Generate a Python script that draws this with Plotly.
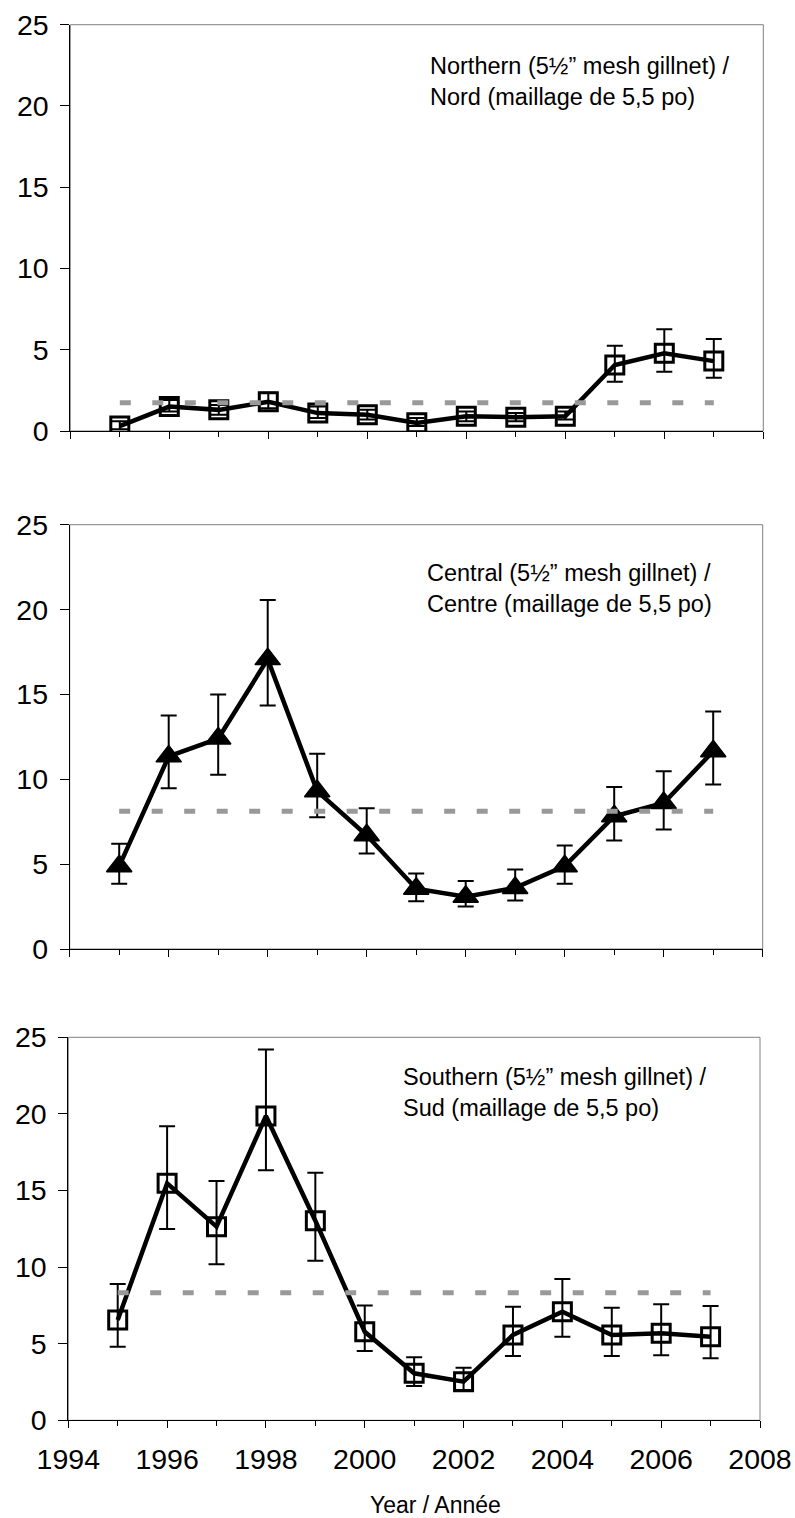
import plotly.graph_objects as go

W, H = 795, 1518

years = [1995, 1996, 1997, 1998, 1999, 2000, 2001, 2002, 2003, 2004, 2005, 2006, 2007]

# Northern (squares)
north = [0.3, 1.5, 1.3, 1.8, 1.1, 1.0, 0.5, 0.9, 0.85, 0.9, 4.06, 4.78, 4.3]
north_hi = [0.6, 1.9, 1.6, 2.35, 1.5, 1.3, 0.8, 1.2, 1.1, 1.2, 5.25, 6.26, 5.66]
north_lo = [0.1, 1.2, 1.0, 1.4, 0.8, 0.7, 0.3, 0.6, 0.6, 0.7, 3.03, 3.65, 3.28]
north_mean = 1.74

# Central (triangles)
central = [4.88, 11.35, 12.4, 17.08, 9.3, 6.7, 3.55, 3.08, 3.6, 4.88, 7.82, 8.6, 11.65]
central_hi = [6.2, 13.76, 15.0, 20.57, 11.5, 8.3, 4.45, 4.0, 4.69, 6.1, 9.55, 10.47, 14.0]
central_lo = [3.85, 9.47, 10.26, 14.35, 7.76, 5.63, 2.82, 2.5, 2.86, 3.85, 6.39, 7.04, 9.69]
central_mean = 8.12

# Southern (squares)
south = [6.55, 15.47, 12.64, 19.86, 13.03, 5.78, 3.07, 2.52, 5.57, 7.09, 5.57, 5.68, 5.46]
south_hi = [8.9, 19.2, 15.62, 24.2, 16.16, 7.5, 4.11, 3.43, 7.42, 9.22, 7.35, 7.57, 7.46]
south_lo = [4.8, 12.49, 10.18, 16.32, 10.42, 4.52, 2.24, 1.98, 4.2, 5.46, 4.2, 4.24, 4.05]
south_mean = 8.33

mean_x = [1995, 2007]

labels = [
    "Northern (5½” mesh gillnet) /<br>Nord (maillage de 5,5 po)",
    "Central (5½” mesh gillnet) /<br>Centre (maillage de 5,5 po)",
    "Southern (5½” mesh gillnet) /<br>Sud (maillage de 5,5 po)",
]
x_title = "Year / Année"
y_ticks = [0, 5, 10, 15, 20, 25]
x_ticks = [1994, 1996, 1998, 2000, 2002, 2004, 2006, 2008]

FONT = "Liberation Sans, Arial, sans-serif"

# pixel geometry of each plot area: (left, right, top, bottom)
boxes = [
    (70.3, 763.3, 24.7, 431.0),
    (69.7, 762.7, 524.7, 949.0),
    (68.3, 760.0, 1037.3, 1420.3),
]
label_pos = [(428.0, 51.0), (424.5, 558.0), (400.5, 1062.0)]

series = [
    (north, north_hi, north_lo, north_mean, "square-open"),
    (central, central_hi, central_lo, central_mean, "triangle-up"),
    (south, south_hi, south_lo, south_mean, "square-open"),
]

fig = go.Figure()
layout = dict(
    width=W, height=H,
    margin=dict(l=0, r=0, t=0, b=0),
    paper_bgcolor="white", plot_bgcolor="white",
    showlegend=False,
    font=dict(family=FONT, color="black"),
    annotations=[], shapes=[],
)

for i, ((vals, hi, lo, mean, sym), (l, r, t, b)) in enumerate(zip(series, boxes)):
    n = "" if i == 0 else str(i + 1)
    xa, ya = "x" + n, "y" + n
    plus = [h - v for h, v in zip(hi, vals)]
    minus = [v - lo_ for v, lo_ in zip(vals, lo)]
    if sym == "square-open":
        marker = dict(symbol=sym, size=18, color="black", line=dict(width=3, color="black"))
    else:
        marker = dict(symbol=sym, size=22, color="black", line=dict(width=1.5, color="black"))
    fig.add_trace(go.Scatter(
        x=years, y=vals, xaxis=xa, yaxis=ya, mode="lines+markers",
        line=dict(color="black", width=4.5),
        marker=marker,
        error_y=dict(type="data", symmetric=False, array=plus, arrayminus=minus,
                     color="black", thickness=2, width=8),
    ))
    fig.add_trace(go.Scatter(
        x=mean_x, y=[mean, mean], xaxis=xa, yaxis=ya, mode="lines",
        line=dict(color="#999999", width=5, dash="11px,21.5px"),
    ))
    xkey = "xaxis" + n
    ykey = "yaxis" + n
    layout[xkey] = dict(
        domain=[l / W, r / W], range=[1994, 2008], anchor=ya,
        tickvals=x_ticks, showticklabels=(i == 2),
        ticks="outside", ticklen=7, tickwidth=1, tickcolor="black",
        minor=dict(ticks="outside", ticklen=5, tickwidth=1, tickcolor="black", dtick=1, tick0=1994),
        showline=True, linecolor="black", linewidth=1,
        showgrid=False, zeroline=False, automargin=False,
        tickfont=dict(size=28.5, family=FONT, color="black"),
        ticklabelstandoff=6,
    )
    layout[ykey] = dict(
        domain=[1 - b / H, 1 - t / H], range=[0, 25], anchor=xa,
        tickvals=y_ticks,
        ticks="outside", ticklen=9, tickwidth=1, tickcolor="black",
        showline=True, linecolor="black", linewidth=1,
        showgrid=False, zeroline=False, automargin=False,
        tickfont=dict(size=28.5, family=FONT, color="black"),
        ticklabelstandoff=6,
    )
    layout["shapes"].append(dict(
        type="rect", xref=xa + " domain", yref=ya + " domain",
        x0=0, x1=1, y0=0, y1=1, line=dict(color="#808080", width=1), layer="below",
    ))
    lx, ly = label_pos[i]
    layout["annotations"].append(dict(
        text=labels[i], xref="paper", yref="paper", x=lx / W, y=1 - ly / H,
        xanchor="left", yanchor="top", align="left", showarrow=False,
        font=dict(size=23.5, family=FONT, color="black"),
    ))

layout["annotations"].append(dict(
    text=x_title, xref="paper", yref="paper", x=435.8 / W, y=1 - 1505 / H,
    xanchor="center", yanchor="middle", showarrow=False,
    font=dict(size=23, family=FONT, color="black"),
))

fig.update_layout(**layout)
fig.write_html("out.html")
